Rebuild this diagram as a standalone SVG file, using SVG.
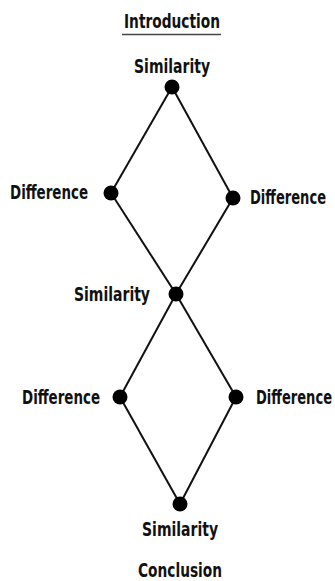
<svg xmlns="http://www.w3.org/2000/svg" width="335" height="581" viewBox="0 0 335 581">
<style>
.t{font-family:"DejaVu Sans Condensed","DejaVu Sans","Liberation Sans",sans-serif;font-stretch:condensed;font-weight:bold;font-size:19px;fill:#111}
.n{fill:#000}
.e{stroke:#111;stroke-width:2;fill:none}
</style>
<rect width="335" height="581" fill="#fff"/>
<g id="title">
<text class="t" transform="translate(172,28) scale(0.8,1)" text-anchor="middle" textLength="120" lengthAdjust="spacingAndGlyphs">Introduction</text>
<line x1="122" y1="34.5" x2="221" y2="34.5" stroke="#444" stroke-width="1.5"/>
</g>
<g id="connectors">
<line class="e" x1="172" y1="87" x2="111" y2="193"/>
<line class="e" x1="172" y1="87" x2="233" y2="198"/>
<line class="e" x1="111" y1="193" x2="176" y2="294"/>
<line class="e" x1="233" y1="198" x2="176" y2="294"/>
<line class="e" x1="176" y1="294" x2="120" y2="397"/>
<line class="e" x1="176" y1="294" x2="236" y2="397"/>
<line class="e" x1="120" y1="397" x2="180" y2="504"/>
<line class="e" x1="236" y1="397" x2="180" y2="504"/>
</g>
<g id="n1"><circle class="n" cx="172" cy="87" r="7.5"/><text class="t" transform="translate(172,73) scale(0.8,1)" text-anchor="middle" textLength="95" lengthAdjust="spacingAndGlyphs">Similarity</text></g>
<g id="n2"><circle class="n" cx="111" cy="193" r="7.5"/><text class="t" transform="translate(10,199) scale(0.8,1)" textLength="97.5" lengthAdjust="spacingAndGlyphs">Difference</text></g>
<g id="n3"><circle class="n" cx="233" cy="198" r="7.5"/><text class="t" transform="translate(250,204) scale(0.8,1)" textLength="95" lengthAdjust="spacingAndGlyphs">Difference</text></g>
<g id="n4"><circle class="n" cx="176" cy="294" r="7.5"/><text class="t" transform="translate(74,301) scale(0.8,1)" textLength="95" lengthAdjust="spacingAndGlyphs">Similarity</text></g>
<g id="n5"><circle class="n" cx="120" cy="397" r="7.5"/><text class="t" transform="translate(22,404) scale(0.8,1)" textLength="97.5" lengthAdjust="spacingAndGlyphs">Difference</text></g>
<g id="n6"><circle class="n" cx="236" cy="397" r="7.5"/><text class="t" transform="translate(256,404) scale(0.8,1)" textLength="95" lengthAdjust="spacingAndGlyphs">Difference</text></g>
<g id="n7"><circle class="n" cx="180" cy="504" r="7.5"/><text class="t" transform="translate(180,536) scale(0.8,1)" text-anchor="middle" textLength="95" lengthAdjust="spacingAndGlyphs">Similarity</text></g>
<g id="conclusion"><text class="t" transform="translate(180,577) scale(0.8,1)" text-anchor="middle" textLength="105" lengthAdjust="spacingAndGlyphs">Conclusion</text></g>
</svg>
